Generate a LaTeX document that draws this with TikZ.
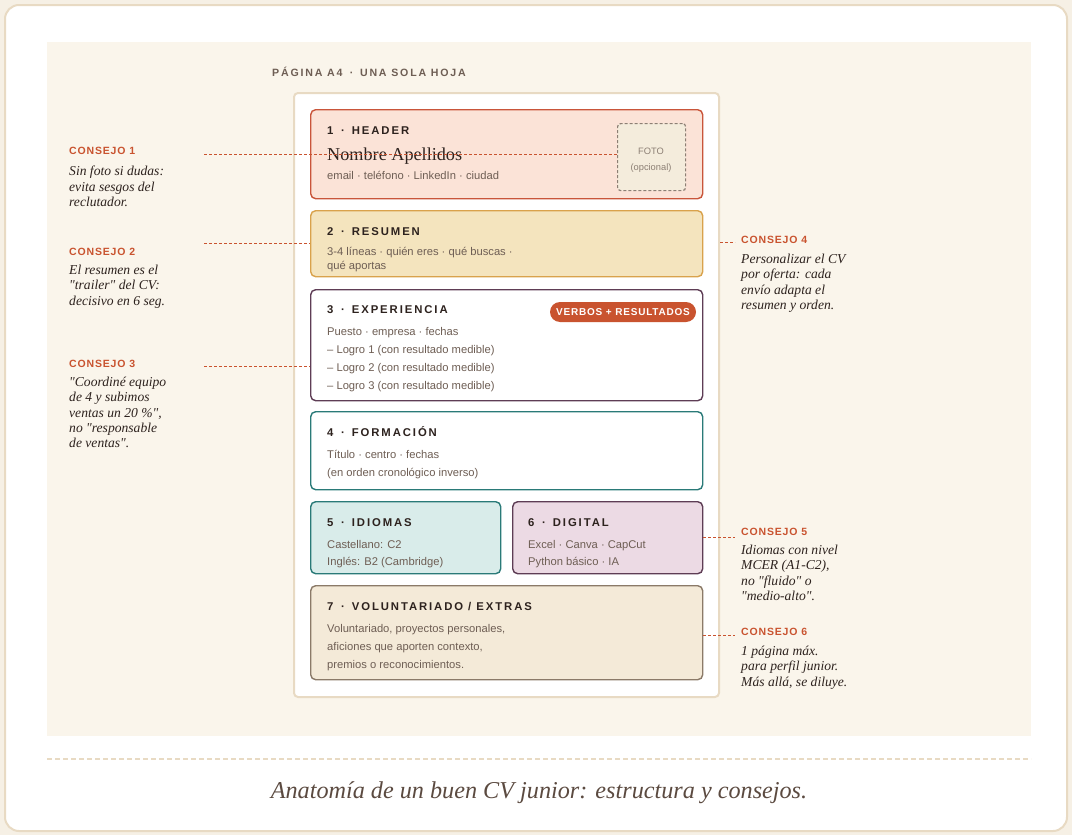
\documentclass[tikz,border=0pt]{standalone}
\usepackage{fontspec}
\setmainfont[Ligatures=TeXOff]{Liberation Serif}
\setsansfont{Liberation Sans}
\newfontfamily\capsfont[LetterSpace=17]{Liberation Sans}
\newfontfamily\tagfont[LetterSpace=8]{Liberation Sans}
% spaced middle dot used in the section headings
\newcommand\sepdot{\hspace{2.5pt} · \hspace{2pt}}
\definecolor{pagebg}{HTML}{F6F0E5}
\definecolor{panel}{HTML}{FAF5EB}
\definecolor{rim}{HTML}{E8DAC3}
\definecolor{ink}{HTML}{2D221E}
\definecolor{muted}{HTML}{6E5E54}
\definecolor{accent}{HTML}{C9532F}
\definecolor{hdfill}{HTML}{FBE3D7}
\definecolor{hdline}{HTML}{C9553A}
\definecolor{rsfill}{HTML}{F4E4BE}
\definecolor{rsline}{HTML}{D9A24C}
\definecolor{plum}{HTML}{5E3D55}
\definecolor{teal}{HTML}{2A7A78}
\definecolor{idfill}{HTML}{D9ECEA}
\definecolor{dgfill}{HTML}{ECDAE4}
\definecolor{vxfill}{HTML}{F4EAD8}
\definecolor{vxline}{HTML}{8B7A68}
\definecolor{fotofill}{HTML}{F4ECDC}
\definecolor{fotoline}{HTML}{8C7F74}
\definecolor{capcol}{HTML}{5B4A40}
\tikzset{
  secbox/.style={draw, line width=1.4pt, rounded corners=5pt, anchor=north west, inner sep=0pt},
  head/.style={anchor=base west, inner sep=0pt, text=ink, font=\capsfont\bfseries\fontsize{11.3}{13}\selectfont},
  body/.style={anchor=base west, inner sep=0pt, text=muted, font=\sffamily\fontsize{11.2}{13}\selectfont},
  tiphead/.style={anchor=base west, inner sep=0pt, text=accent, font=\tagfont\bfseries\fontsize{10.5}{12}\selectfont},
  tiptext/.style={anchor=north west, inner sep=0pt, align=left, text=ink, font=\itshape\fontsize{13.6}{15.3}\selectfont},
  tipline/.style={draw=accent, line width=0.9pt, dash pattern=on 3pt off 2pt},
}
\begin{document}
\begin{tikzpicture}[x=1pt,y=-1pt]
% canvas, card and panel
\fill[pagebg] (0,0) rectangle (1072,835);
\useasboundingbox (0,0) rectangle (1072,835);
\draw[rim, line width=2pt, fill=white, rounded corners=14pt] (5,5) rectangle (1067,831);
\fill[panel] (47,42) rectangle (1031,736);
\draw[rim, line width=2pt, dash pattern=on 5pt off 3pt] (47,759) -- (1031,759);
\node[anchor=center, inner sep=0pt, text=capcol, font=\itshape\fontsize{24.2}{27}\selectfont] (caption) at (539,793) {Anatomía de un buen CV junior: estructura y consejos.};

% A4 sheet
\node[anchor=base west, inner sep=0pt, text=muted, font=\capsfont\bfseries\fontsize{10.6}{12}\selectfont] (sheettitle) at (272,76) {PÁGINA A4\sepdot UNA SOLA HOJA};
\node[draw=rim, line width=2pt, fill=white, rounded corners=4pt, anchor=north west, minimum width=425pt, minimum height=604pt, inner sep=0pt] (page) at (293,92) {};

% section boxes
\node[secbox, draw=hdline, fill=hdfill, minimum width=392pt, minimum height=89pt] (s1) at (310,109) {};
\node[secbox, draw=rsline, fill=rsfill, minimum width=392pt, minimum height=66pt] (s2) at (310,210) {};
\node[secbox, draw=plum, fill=white, minimum width=392pt, minimum height=111pt] (s3) at (310,289) {};
\node[secbox, draw=teal, fill=white, minimum width=392pt, minimum height=78pt] (s4) at (310,411) {};
\node[secbox, draw=teal, fill=idfill, minimum width=190pt, minimum height=72pt] (s5) at (310,501) {};
\node[secbox, draw=plum, fill=dgfill, minimum width=190pt, minimum height=72pt] (s6) at (512,501) {};
\node[secbox, draw=vxline, fill=vxfill, minimum width=392pt, minimum height=94pt] (s7) at (310,585) {};

% 1 header
\node[head] (h1) at (327,134) {1\sepdot HEADER};
\node[anchor=base west, inner sep=0pt, text=ink, font=\fontsize{18.2}{20}\selectfont] (name) at (327,160) {Nombre Apellidos};
\node[body] (contact) at (327,179) {email · teléfono · LinkedIn · ciudad};
\node[draw=fotoline, fill=fotofill, line width=1.2pt, dash pattern=on 3pt off 2pt, rounded corners=3pt, anchor=north west, minimum width=68pt, minimum height=67pt, inner sep=0pt] (foto) at (617,123) {};
\node[inner sep=0pt, text=fotoline, font=\sffamily\fontsize{9.3}{11}\selectfont] (fotoa) at (651,151) {FOTO};
\node[inner sep=0pt, text=fotoline, font=\sffamily\fontsize{9.3}{11}\selectfont] (fotob) at (651,168) {(opcional)};

% 2 resumen
\node[head] (h2) at (327,235) {2\sepdot RESUMEN};
\node[body] (r1) at (327,255) {3-4 líneas · quién eres · qué buscas ·};
\node[body] (r2) at (327,269) {qué aportas};

% 3 experiencia
\node[head] (h3) at (327,313) {3\sepdot EXPERIENCIA};
\node[fill=accent, rounded corners=10pt, minimum width=146pt, minimum height=20pt, inner sep=0pt, text=white, font=\tagfont\bfseries\fontsize{10}{11}\selectfont] (badge) at (623,312) {VERBOS + RESULTADOS};
\node[body] (e1) at (327,335) {Puesto · empresa · fechas};
\node[body] (e2) at (327,353) {– Logro 1 (con resultado medible)};
\node[body] (e3) at (327,371) {– Logro 2 (con resultado medible)};
\node[body] (e4) at (327,389) {– Logro 3 (con resultado medible)};

% 4 formacion
\node[head] (h4) at (327,436) {4\sepdot FORMACIÓN};
\node[body] (f1) at (327,458) {Título · centro · fechas};
\node[body] (f2) at (327,476) {(en orden cronológico inverso)};

% 5 idiomas
\node[head] (h5) at (327,526) {5\sepdot IDIOMAS};
\node[body] (i1) at (327,548) {Castellano: C2};
\node[body] (i2) at (327,565) {Inglés: B2 (Cambridge)};

% 6 digital
\node[head] (h6) at (528,526) {6\sepdot DIGITAL};
\node[body] (d1) at (528,548) {Excel · Canva · CapCut};
\node[body] (d2) at (528,565) {Python básico · IA};

% 7 voluntariado
\node[head] (h7) at (327,610) {7\sepdot VOLUNTARIADO / EXTRAS};
\node[body] (v1) at (327,632) {Voluntariado, proyectos personales,};
\node[body] (v2) at (327,650) {aficiones que aporten contexto,};
\node[body] (v3) at (327,668) {premios o reconocimientos.};

% tips, left column
\node[tiphead] (k1) at (69,154) {CONSEJO 1};
\node[tiptext] (k1t) at (69,166) {Sin foto si dudas:\\evita sesgos del\\reclutador.};
\node[tiphead] (k2) at (69,255) {CONSEJO 2};
\node[tiptext] (k2t) at (69,265) {El resumen es el\\"trailer" del CV:\\decisivo en 6 seg.};
\node[tiphead] (k3) at (69,367) {CONSEJO 3};
\node[tiptext] (k3t) at (69,377) {"Coordiné equipo\\de 4 y subimos\\ventas un 20 \%",\\no "responsable\\de ventas".};

% tips, right column
\node[tiphead] (k4) at (741,243) {CONSEJO 4};
\node[tiptext] (k4t) at (741,254) {Personalizar el CV\\por oferta: cada\\envío adapta el\\resumen y orden.};
\node[tiphead] (k5) at (741,535) {CONSEJO 5};
\node[tiptext] (k5t) at (741,545) {Idiomas con nivel\\MCER (A1-C2),\\no "fluido" o\\"medio-alto".};
\node[tiphead] (k6) at (741,635) {CONSEJO 6};
\node[tiptext] (k6t) at (741,646) {1 página máx.\\para perfil junior.\\Más allá, se diluye.};

% leader lines
\coordinate (t1) at (204,154);
\coordinate (t2) at (204,243);
\coordinate (t3) at (204,366);
\coordinate (t4) at (735,242);
\coordinate (t5) at (735,537);
\coordinate (t6) at (735,635);
\draw[tipline] (t1) -- (foto.west |- t1);
\draw[tipline] (t2) -- (s2.west |- t2);
\draw[tipline] (t3) -- (s3.west |- t3);
\draw[tipline] (page.east |- t4) -- (t4);
\draw[tipline] (s6.east |- t5) -- (t5);
\draw[tipline] (s7.east |- t6) -- (t6);
\end{tikzpicture}
\end{document}
